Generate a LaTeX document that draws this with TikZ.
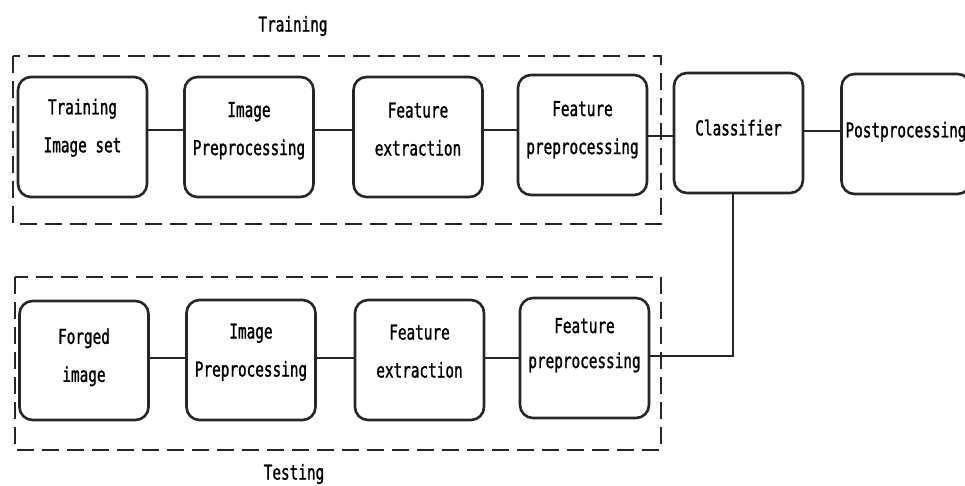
\documentclass[tikz,border=0pt]{standalone}
\usepackage{fontspec}
\newfontfamily\lblfont[FakeStretch=0.7,FakeBold=1.2]{DejaVu Sans Mono}
\begin{document}
\begin{tikzpicture}[x=1pt,y=-1pt,
  stage/.style={draw=black!85, line width=2.6pt, rounded corners=13pt, align=center,
    minimum width=129pt, minimum height=120pt, inner sep=0pt,
    text depth=4.9pt,
    font=\lblfont\fontsize{20.5}{38}\selectfont},
  link/.style={draw=black!85, line width=2.8pt},
  groupbox/.style={draw=black!85, line width=2.8pt, dash pattern=on 17pt off 8pt},
  grouplabel/.style={font=\lblfont\fontsize{20.5}{24}\selectfont}]
\useasboundingbox (0,0) rectangle (965,486);
\fill[white] (0,0) rectangle (965,486);
% group frames
\draw[groupbox] (13,56) rectangle (661,224);
\draw[groupbox] (15,277) rectangle (661,450);
\node[grouplabel] (trainlbl) at (293,26) {Training};
\node[grouplabel] (testlbl) at (294,474) {Testing};
% top row
\node[stage, text depth=22.9pt] (t1) at (82.5,137) {Training\\Image set};
\node[stage, text depth=16.9pt] (t2) at (249,137) {Image\\Preprocessing};
\node[stage, text depth=15.9pt] (t3) at (418,137) {Feature\\extraction};
\node[stage, text depth=14.9pt] (t4) at (582.5,135) {Feature\\preprocessing};
\node[stage, text depth=10.9pt] (cls) at (738.5,133) {Classifier};
\node[stage, text depth=8.9pt] (post) at (906,134) {Postprocessing};
% bottom row
\node[stage, minimum height=119pt, text depth=10.9pt] (b1) at (84,360.5) {Forged\\image};
\node[stage, text depth=19.9pt] (b2) at (251,360) {Image\\Preprocessing};
\node[stage, text depth=17.9pt] (b3) at (419.5,360) {Feature\\extraction};
\node[stage, text depth=29.9pt, font=\lblfont\fontsize{20.5}{35}\selectfont] (b4) at (584.5,358) {Feature\\preprocessing};
% connectors top
\draw[link] ([yshift=7pt]t1.east) -- ([yshift=7pt]t2.west);
\draw[link] ([yshift=7pt]t2.east) -- ([yshift=7pt]t3.west);
\draw[link] ([yshift=7pt]t3.east) -- ([yshift=5pt]t4.west);
\draw[link] ([yshift=-1pt]t4.east) -- ([yshift=-3pt]cls.west);
\draw[link] ([yshift=2pt]cls.east) -- ([yshift=3pt]post.west);
% connectors bottom
\draw[link] ([yshift=2.5pt]b1.east) -- ([yshift=2pt]b2.west);
\draw[link] ([yshift=2pt]b2.east) -- ([yshift=2pt]b3.west);
\draw[link] ([yshift=2pt]b3.east) -- (b4.west);
\coordinate (turn) at ([xshift=-5.5pt]cls.south |- b4.east);
\draw[link] ([xshift=-5.5pt]cls.south) -- ([yshift=2pt]turn) -- ([yshift=2pt]b4.east);
\end{tikzpicture}
\end{document}
